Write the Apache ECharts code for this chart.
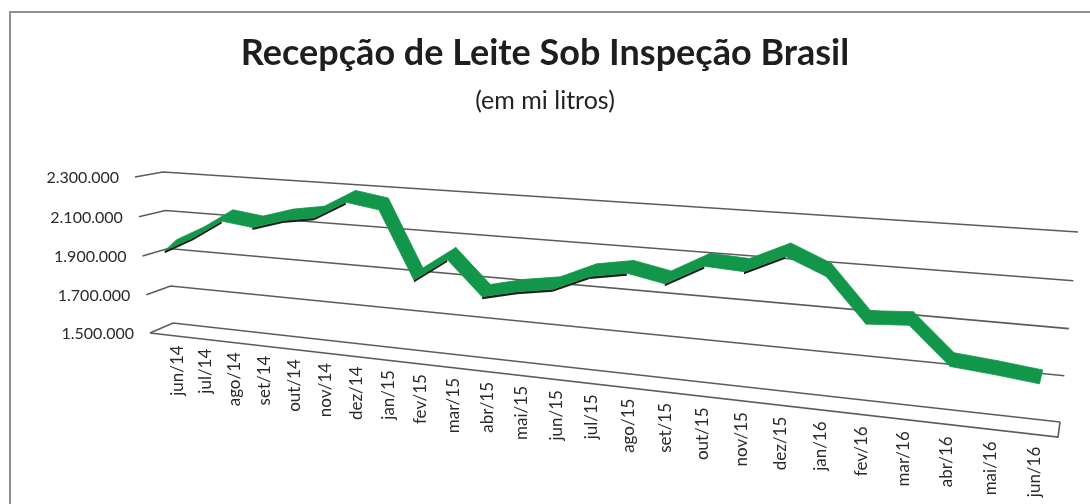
<!DOCTYPE html>
<html>
<head>
<meta charset="utf-8">
<script src="https://cdn.jsdelivr.net/npm/echarts@6/dist/echarts.min.js"></script>
<style>
html,body{margin:0;padding:0;background:#fff}
#main{width:1090px;height:504px}
</style>
</head>
<body>
<div id="main"></div>
<script>
// dados (mi litros)
var meses = ['jun/14','jul/14','ago/14','set/14','out/14','nov/14','dez/14','jan/15','fev/15','mar/15','abr/15','mai/15',
    'jun/15','jul/15','ago/15','set/15','out/15','nov/15','dez/15','jan/16','fev/16','mar/16','abr/16','mai/16','jun/16'];
var recepcao = [1919000, 2000000, 2099000, 2079000, 2126000, 2152000, 2241000, 2215000, 1884000, 1999000, 1833000, 1873000,
    1900000, 1976000, 2006000, 1972000, 2067000, 2057000, 2140000, 2065000, 1871000, 1883000, 1721000, 1705000, 1685000];
var yTicks = [1500000, 1700000, 1900000, 2100000, 2300000];
var yMin = 1500000, yMax = 2300000, yStep = 200000;

// "3D" look: back wall of the chart as a perspective quad (TL, TR, BR, BL)
var parede = [[163,172],[1078,232],[1060,422],[173,323]];
var uL = -0.1, uR = 24.5;

function homografia(q){
    var x0=q[0][0],y0=q[0][1],x1=q[1][0],y1=q[1][1],x2=q[2][0],y2=q[2][1],x3=q[3][0],y3=q[3][1];
    var dx1=x1-x2,dx2=x3-x2,dx3=x0-x1+x2-x3;
    var dy1=y1-y2,dy2=y3-y2,dy3=y0-y1+y2-y3;
    var den=dx1*dy2-dx2*dy1;
    var g=(dx3*dy2-dx2*dy3)/den, h=(dx1*dy3-dx3*dy1)/den;
    var a=x1-x0+g*x1, b=x3-x0+h*x3, c=x0;
    var d=y1-y0+g*y1, e=y3-y0+h*y3, f=y0;
    return function(s,t){
        var w=g*s+h*t+1;
        return [(a*s+b*t+c)/w,(d*s+e*t+f)/w];
    };
}
var H = homografia(parede);

function lerp(a,b,k){ return [a[0]+(b[0]-a[0])*k, a[1]+(b[1]-a[1])*k]; }
function fmt(v){ return String(v).replace(/\B(?=(\d{3})+(?!\d))/g,'.'); }

// pixel of the hidden grid -> (s,t) -> perspective
function proj(api, params, i, v){
    var cs = params.coordSys;
    var p = api.coord([i, v]);
    var idx = (p[0]-cs.x)/cs.width*(meses.length-1);
    var s = (idx-uL)/(uR-uL);
    var t = (p[1]-cs.y)/cs.height;
    return {pt: H(s,t), s: s, t: t};
}

var myChart = echarts.init(document.getElementById('main'));

var option = {
    animation: false,
    backgroundColor: '#fff',
    title: [{
        text: 'Recepção de Leite Sob Inspeção Brasil',
        left: 'center', top: 30,
        textStyle: {fontFamily: 'Lato', fontWeight: 'bold', fontSize: 36, color: '#1e1e1e'}
    }, {
        text: '(em mi litros)',
        left: 'center', top: 83,
        textStyle: {fontFamily: 'Lato', fontWeight: 'normal', fontSize: 25, color: '#222'}
    }],
    graphic: [{
        type: 'rect', silent: true,
        shape: {x: 10, y: 12, width: 1100, height: 520},
        style: {fill: 'none', stroke: '#8f8f8f', lineWidth: 2}
    }],
    grid: {left: 100, right: 100, top: 100, bottom: 100},
    xAxis: {type: 'category', data: meses, boundaryGap: false, show: false},
    yAxis: {type: 'value', min: yMin, max: yMax, interval: yStep, show: false},
    series: [{
        // linhas de grade + rótulos do eixo y + base
        type: 'custom', silent: true,
        data: yTicks.map(function(v){ return [0, v]; }),
        renderItem: function(params, api){
            var v = api.value(1);
            var L = proj(api, params, 0, v), t = L.t;
            var back0 = H(0, t), back1 = H(1, t);
            var lado = lerp([-28,5],[-23,10],t);
            var front0 = [back0[0] + lado[0], back0[1] + lado[1]];
            var kids = [{
                type: 'polyline',
                shape: {points: [front0, back0, back1]},
                style: {stroke: '#5f5a5a', lineWidth: 1.6, fill: null}
            }, {
                type: 'text', x: front0[0] - 16, y: front0[1] + 1,
                style: {text: fmt(v), fill: '#2a2a2a', fontFamily: 'Lato', fontSize: 16, align: 'right', verticalAlign: 'middle'}
            }];
            if (v === yMin) {
                var front1 = [back1[0] - 2, back1[1] + 15];
                kids.push({
                    type: 'polyline',
                    shape: {points: [front0, front1, back1]},
                    style: {stroke: '#5f5a5a', lineWidth: 1.6, fill: null}
                });
            }
            return {type: 'group', children: kids};
        }
    }, {
        // rótulos dos meses
        type: 'custom', silent: true,
        data: meses.map(function(m, i){ return [i, 1380000]; }),
        renderItem: function(params, api){
            var i = api.value(0);
            var P = proj(api, params, i, api.value(1)).pt;
            return {
                type: 'text', x: P[0], y: P[1], rotation: Math.PI/2,
                style: {text: meses[i], fill: '#2a2a2a', fontFamily: 'Lato', fontSize: 17, align: 'right', verticalAlign: 'middle'}
            };
        }
    }, {
        // fita verde
        type: 'custom', silent: true,
        data: recepcao.map(function(v, i){ return [i, v]; }),
        renderItem: function(params, api){
            var i = api.value(0);
            if (i >= recepcao.length - 1) return null;
            var A = proj(api, params, i, api.value(1));
            var B = proj(api, params, i + 1, recepcao[i + 1]);
            var dA = lerp([12,-11],[3,-14],A.s), dB = lerp([12,-11],[3,-14],B.s);
            var fa = [A.pt[0]-dA[0]/2, A.pt[1]-dA[1]/2], ba = [A.pt[0]+dA[0]/2, A.pt[1]+dA[1]/2];
            var fb = [B.pt[0]-dB[0]/2, B.pt[1]-dB[1]/2], bb = [B.pt[0]+dB[0]/2, B.pt[1]+dB[1]/2];
            var kids = [];
            if (B.pt[1] < A.pt[1]) {
                kids.push({
                    type: 'polygon',
                    shape: {points: [fa, fb, [fb[0], fb[1]+2.5], [fa[0], fa[1]+2.5]]},
                    style: {fill: '#1c1c1c'}
                });
            }
            kids.push({
                type: 'polygon',
                shape: {points: [fa, fb, bb, ba]},
                style: {fill: '#12964a', stroke: '#12964a', lineWidth: 0.8}
            });
            return {type: 'group', children: kids};
        }
    }]
};

myChart.setOption(option);
</script>
</body>
</html>
